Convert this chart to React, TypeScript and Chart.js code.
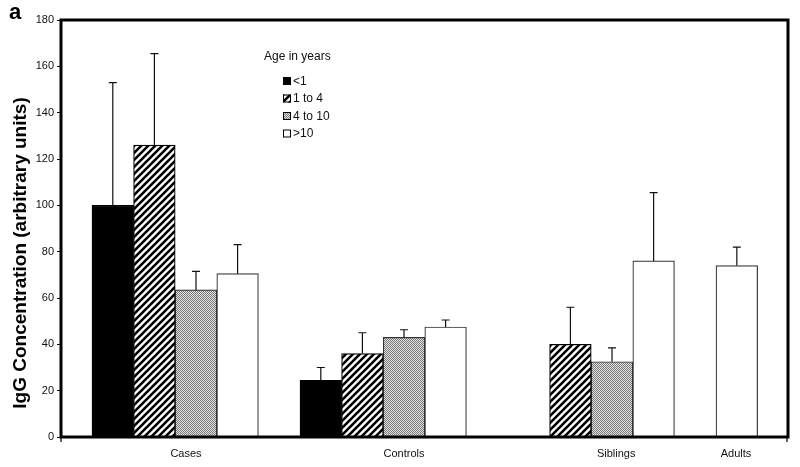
import React, { useEffect, useRef } from 'react';
import { Chart, registerables } from 'chart.js';

Chart.register(...registerables);

// ---- data ----
const groups = ['Cases', 'Controls', 'Siblings', 'Adults'];
const seriesNames = ['<1', '1 to 4', '4 to 10', '>10'];
const legendTitle = 'Age in years';
const yTitle = 'IgG Concentration (arbitrary units)';
const panelLabel = 'a';

const under1 = [100, 24.5, null, null];
const under1Err = [53, 5.5, null, null];
const age1to4 = [126, 36, 40, null];
const age1to4Err = [39.5, 9, 16, null];
const age4to10 = [63.5, 43, 32.5, null];
const age4to10Err = [8, 3.3, 6, null];
const over10 = [70.5, 47.5, 76, 74];
const over10Err = [12.5, 3, 29.5, 8];

const yMin = 0;
const yMax = 180;
const yStep = 20;

// ---- layout (slots on a linear x axis) ----
const groupSlotStart = [0, 5, 10, 12];
const groupLabelPos = [1.76, 7.0, 12.1, 14.98];
const xMin = -1.245;
const xMax = 16.23;

const FONT = "'Liberation Sans', Arial, Helvetica, sans-serif";

function makeHatch(): CanvasPattern | string {
  const s = 7;
  const c = document.createElement('canvas');
  c.width = s;
  c.height = s;
  const ctx = c.getContext('2d');
  if (!ctx) return '#888';
  ctx.fillStyle = '#fff';
  ctx.fillRect(0, 0, s, s);
  ctx.strokeStyle = '#000';
  ctx.lineWidth = 2.6;
  ctx.beginPath();
  ctx.moveTo(-2, 2);
  ctx.lineTo(2, -2);
  ctx.moveTo(0, s);
  ctx.lineTo(s, 0);
  ctx.moveTo(s - 2, s + 2);
  ctx.lineTo(s + 2, s - 2);
  ctx.stroke();
  return ctx.createPattern(c, 'repeat') || '#888';
}

function makeDither(): CanvasPattern | string {
  const c = document.createElement('canvas');
  c.width = 2;
  c.height = 2;
  const ctx = c.getContext('2d');
  if (!ctx) return '#aaa';
  ctx.fillStyle = '#e2e2e2';
  ctx.fillRect(0, 0, 2, 2);
  ctx.fillStyle = '#7a7a7a';
  ctx.fillRect(0, 0, 1, 1);
  ctx.fillRect(1, 1, 1, 1);
  return ctx.createPattern(c, 'repeat') || '#aaa';
}

export default function App() {
  const canvasRef = useRef<HTMLCanvasElement | null>(null);

  useEffect(() => {
    const canvas = canvasRef.current;
    if (!canvas) return;

    const hatch = makeHatch();
    const dither = makeDither();
    const fills = ['#000', hatch, dither, '#fff'];
    const borders = ['#000', '#000', '#333', '#333'];
    const values = [under1, age1to4, age4to10, over10];
    const errors = [under1Err, age1to4Err, age4to10Err, over10Err];

    const datasets = values.map((arr, s) => {
      const pts: any[] = [];
      arr.forEach((v, g) => {
        if (v == null) return;
        pts.push({ x: groupSlotStart[g] + s, y: v, err: errors[s][g] });
      });
      return {
        label: seriesNames[s],
        data: pts,
        backgroundColor: fills[s],
        borderColor: borders[s],
        borderWidth: 1.2,
        grouped: false,
        barPercentage: 1,
        categoryPercentage: 1,
      };
    });

    const errorBars = {
      id: 'errorBars',
      afterDatasetsDraw(chart: any) {
        const ctx = chart.ctx;
        const yScale = chart.scales.y;
        ctx.save();
        ctx.strokeStyle = '#111';
        ctx.lineWidth = 1.2;
        chart.data.datasets.forEach((ds: any, i: number) => {
          const meta = chart.getDatasetMeta(i);
          meta.data.forEach((el: any, j: number) => {
            const p = ds.data[j];
            if (!p || p.err == null) return;
            const top = yScale.getPixelForValue(p.y + p.err);
            ctx.beginPath();
            ctx.moveTo(el.x, el.y);
            ctx.lineTo(el.x, top);
            ctx.moveTo(el.x - 4, top);
            ctx.lineTo(el.x + 4, top);
            ctx.stroke();
          });
        });
        ctx.restore();
      },
    };

    const frame = {
      id: 'frame',
      afterDraw(chart: any) {
        const { ctx, chartArea: a } = chart;
        ctx.save();
        ctx.strokeStyle = '#000';
        ctx.lineWidth = 3;
        ctx.strokeRect(a.left, a.top, a.right - a.left, a.bottom - a.top);
        ctx.lineWidth = 1.2;
        ctx.beginPath();
        ctx.moveTo(a.left, a.bottom);
        ctx.lineTo(a.left, a.bottom + 5);
        ctx.moveTo(a.right - 1, a.bottom);
        ctx.lineTo(a.right - 1, a.bottom + 5);
        ctx.stroke();

        // panel label
        ctx.fillStyle = '#000';
        ctx.font = `bold 22px ${FONT}`;
        ctx.textAlign = 'left';
        ctx.textBaseline = 'alphabetic';
        ctx.fillText(panelLabel, 9, 19);

        // y-axis title
        ctx.save();
        ctx.translate(21, 253);
        ctx.rotate(-Math.PI / 2);
        ctx.font = `bold 19px ${FONT}`;
        ctx.textAlign = 'center';
        ctx.textBaseline = 'middle';
        ctx.fillText(yTitle, 0, 0);
        ctx.restore();

        // legend
        ctx.font = `12px ${FONT}`;
        ctx.textAlign = 'left';
        ctx.textBaseline = 'middle';
        ctx.fillStyle = '#111';
        ctx.fillText(legendTitle, 264, 57);
        const rowY = [81, 98.5, 116, 133.5];
        seriesNames.forEach((name, s) => {
          const y = rowY[s];
          ctx.fillStyle = fills[s] as any;
          ctx.fillRect(283, y - 4, 8, 8);
          ctx.strokeStyle = '#000';
          ctx.lineWidth = 1;
          ctx.strokeRect(283.5, y - 3.5, 7, 7);
          ctx.fillStyle = '#111';
          ctx.fillText(name, 293, y + 0.5);
        });
        ctx.restore();
      },
    };

    const chart = new Chart(canvas, {
      type: 'bar',
      data: { datasets: datasets as any },
      options: {
        responsive: true,
        maintainAspectRatio: false,
        animation: false,
        layout: { padding: { top: 20, right: 12, left: 0, bottom: 0 } },
        plugins: {
          legend: { display: false },
          tooltip: { enabled: false },
        },
        scales: {
          x: {
            type: 'linear',
            offset: false,
            min: xMin,
            max: xMax,
            grid: { display: false, drawTicks: false, offset: false },
            border: { display: false },
            afterBuildTicks: (s: any) => {
              s.ticks = groupLabelPos.map((v) => ({ value: v }));
            },
            ticks: {
              callback: (_v: any, i: number) => groups[i],
              font: { size: 11, family: FONT },
              color: '#111',
              padding: 10,
              autoSkip: false,
              maxRotation: 0,
            },
            afterFit: (s: any) => {
              s.height = 30;
            },
          },
          y: {
            min: yMin,
            max: yMax,
            ticks: {
              stepSize: yStep,
              font: { size: 11, family: FONT },
              color: '#111',
              padding: 3,
            },
            grid: { drawOnChartArea: false, tickLength: 4, color: '#000', lineWidth: 1 },
            border: { display: false },
            title: { display: false },
            afterFit: (s: any) => {
              s.width = 61;
            },
          },
        },
      } as any,
      plugins: [errorBars, frame],
    });

    return () => chart.destroy();
  }, []);

  return (
    <div style={{ position: 'fixed', left: 0, top: 0, width: 800, height: 467, background: '#fff' }}>
      <canvas ref={canvasRef} />
    </div>
  );
}
